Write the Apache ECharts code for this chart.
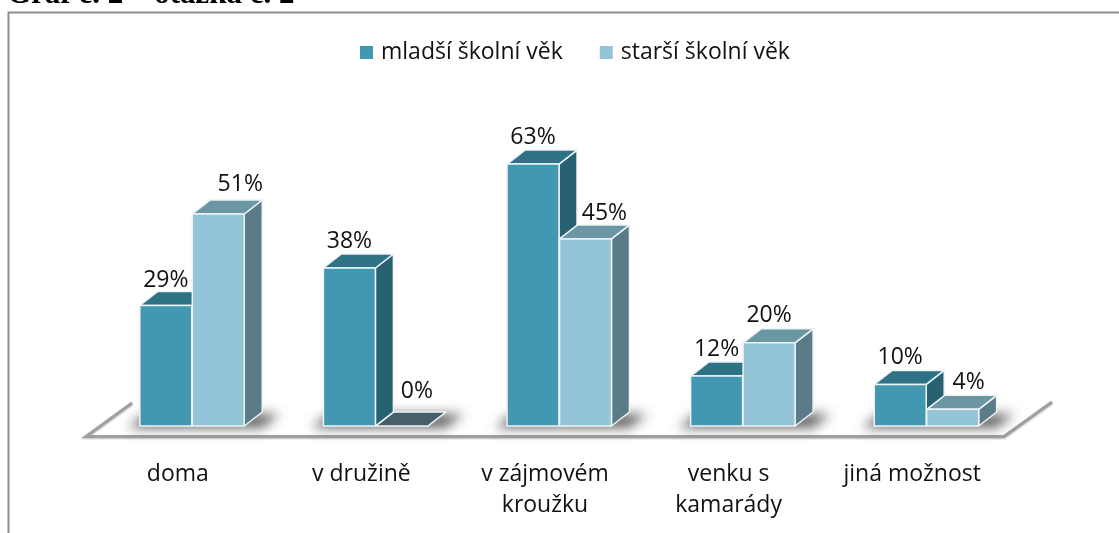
<!DOCTYPE html>
<html>
<head>
<meta charset="utf-8">
<style>
  html, body { margin: 0; padding: 0; background: #fff; }
  #chart { width: 1119px; height: 533px; }
</style>
<script src="https://cdn.jsdelivr.net/npm/echarts@6/dist/echarts.min.js"></script>
</head>
<body>
<div id="chart"></div>
<script>
const categories = ["doma", "v družině", "v zájmovém\nkroužku", "venku s\nkamarády", "jiná možnost"];
const mladsi = [29, 38, 63, 12, 10];
const starsi = [51, 0, 45, 20, 4];

const FONT = "'Open Sans'";
const DX = 18, DY = 14; // hloubka 3D sloupce
const colors1 = { front: "#4198b0", top: "#2e7286", side: "#286172" };
const colors2 = { front: "#93c4d7", top: "#6b97a5", side: "#5b7b88" };

// posun popisku oproti stredu sloupce, [x, y]
const labelShift1 = [[0, 2], [0, 0], [0, 0], [0, 0], [0, 0]];
const labelShift2 = [[22, -3], [15, -8], [19, 2], [0, 0], [16, 0]];

function bar3d(colors, shifts, side) {
  return function (params, api) {
    const i = api.value(0);
    const val = api.value(1);
    const p = api.coord([i, val]);
    const base = api.coord([i, 0]);
    const w = api.size([1, 0])[0] * 0.283;
    const x0 = side === 0 ? base[0] - w : base[0] + 0.5;
    const x1 = x0 + w;
    const y0 = p[1], y1 = base[1];
    const line = { stroke: "#eef3f5", lineWidth: 1.5, lineJoin: "round" };
    const topFill = val === 0 ? "#46606a" : colors.top;
    const children = [
      { type: "polygon", shape: { points: [[x1, y0], [x1 + DX, y0 - DY], [x1 + DX, y1 - DY], [x1, y1]] },
        style: Object.assign({ fill: colors.side }, line) },
      { type: "polygon", shape: { points: [[x0, y0], [x0 + DX, y0 - DY], [x1 + DX, y0 - DY], [x1, y0]] },
        style: Object.assign({ fill: topFill }, line) }
    ];
    if (val > 0) {
      children.push({ type: "rect", shape: { x: x0, y: y0, width: w, height: y1 - y0 },
        style: Object.assign({ fill: colors.front }, line) });
    }
    children.push({
      type: "text",
      style: {
        text: val + "%", x: (x0 + x1) / 2 + shifts[i][0], y: y0 - 27 + shifts[i][1],
        align: "center", verticalAlign: "middle", font: "23px " + FONT, fill: "#111"
      }
    });
    return { type: "group", children: children };
  };
}

// stin na podlaze - kresli se jen stin, samotny tvar je mimo platno
function floorShadow(params, api) {
  const i = api.value(0);
  const base = api.coord([i, 0]);
  const w = api.size([1, 0])[0] * 0.283;
  const off = 2000;
  const a = base[0] - w - 12 - off, b = base[0] + w + 18 - off;
  return {
    type: "polygon",
    shape: { points: [[a, base[1] + 2], [b, base[1] + 2], [b + 18, base[1] - 12], [a + 18, base[1] - 12]] },
    style: { fill: "#000", shadowBlur: 12, shadowColor: "rgba(70,70,70,0.85)", shadowOffsetX: off }
  };
}

const chart = echarts.init(document.getElementById("chart"));
chart.setOption({
  animation: false,
  backgroundColor: "#fff",
  textStyle: { fontFamily: FONT },
  graphic: [
    { type: "text", x: 7, y: 10, z: 10,
      style: { text: "Graf č. 2 – otázka č. 2", verticalAlign: "bottom", font: "bold 31px 'Liberation Serif'", fill: "#000" } },
    { type: "polyline", z: 0, silent: true,
      shape: { points: [[8.5, 533], [8.5, 12.5], [1119, 12.5]] },
      style: { stroke: "#8e8e8e", lineWidth: 2, fill: null } },
    { type: "polyline", z: 0, silent: true,
      shape: { points: [[132, 403], [86, 436.5], [1004, 436.5], [1052, 402]] },
      style: { stroke: "#a0a0a0", lineWidth: 3, fill: null, shadowBlur: 2, shadowColor: "#bbb", shadowOffsetY: 1 } }
  ],
  legend: {
    left: 355, top: 36, itemWidth: 13, itemHeight: 13, itemGap: 37, icon: "rect",
    data: ["mladší školní věk", "starší školní věk"],
    textStyle: { fontFamily: FONT, fontSize: 23, color: "#111", padding: [0, 0, 0, 3] }
  },
  grid: { left: 100, right: 101, top: 135, bottom: 107 },
  xAxis: {
    type: "category",
    data: categories,
    axisLine: { show: false },
    axisTick: { show: false },
    axisLabel: {
      interval: 0,
      margin: 33,
      color: "#111",
      fontFamily: FONT,
      fontSize: 23,
      lineHeight: 31,
      padding: [0, 28, 0, 0]
    }
  },
  yAxis: { type: "value", min: 0, max: 70, show: false },
  series: [
    { type: "custom", silent: true, z: 1, renderItem: floorShadow, data: categories.map(function (c, i) { return [i, 0]; }) },
    { name: "mladší školní věk", type: "custom", z: 2, renderItem: bar3d(colors1, labelShift1, 0),
      itemStyle: { color: colors1.front }, encode: { x: 0, y: 1 },
      data: mladsi.map(function (v, i) { return [i, v]; }) },
    { name: "starší školní věk", type: "custom", z: 3, renderItem: bar3d(colors2, labelShift2, 1),
      itemStyle: { color: colors2.front }, encode: { x: 0, y: 1 },
      data: starsi.map(function (v, i) { return [i, v]; }) }
  ]
});
</script>
</body>
</html>
